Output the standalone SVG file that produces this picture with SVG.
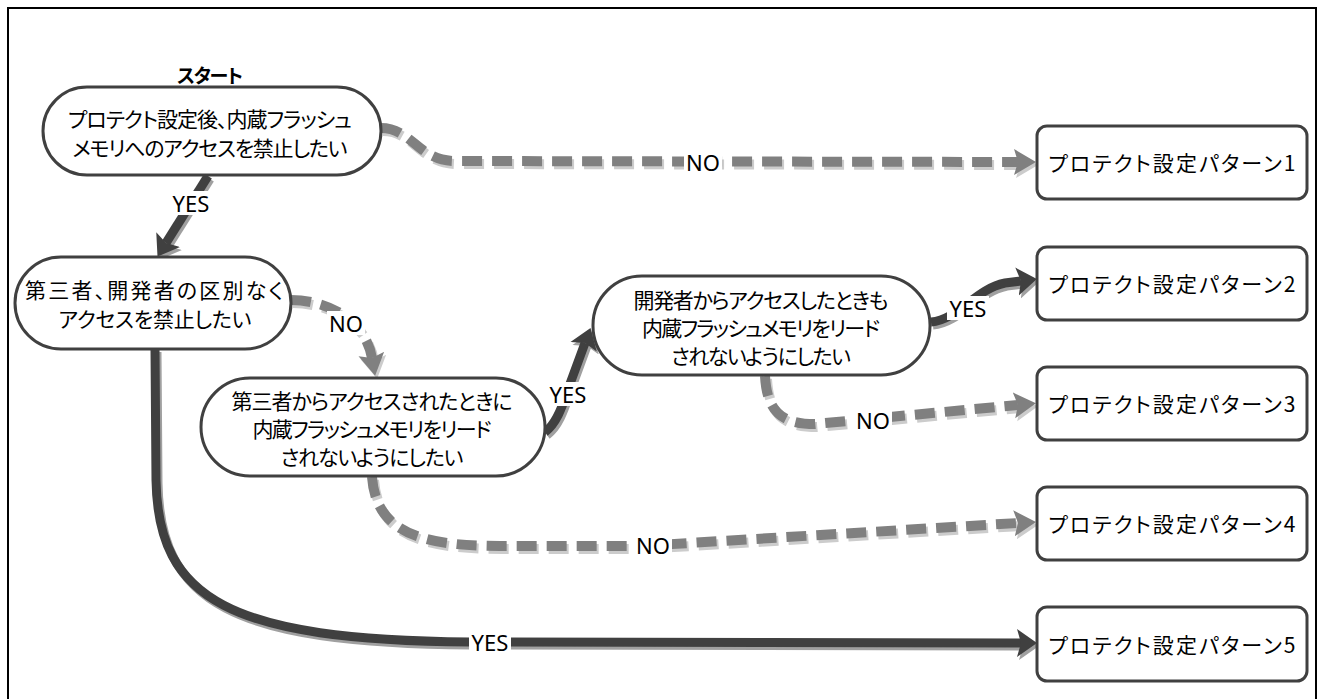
<svg xmlns="http://www.w3.org/2000/svg" width="1318" height="699" viewBox="0 0 1318 699">
<defs>
<style>
.node{fill:#ffffff;stroke:#404040;stroke-width:3}
.t{font-family:"Noto Sans CJK JP","Noto Sans",sans-serif;font-size:21px;fill:#000;text-anchor:middle;dominant-baseline:central;font-feature-settings:"palt"}
.pt{font-family:"Noto Sans CJK JP","Noto Sans",sans-serif;font-size:21px;fill:#000;text-anchor:middle;dominant-baseline:central;font-feature-settings:"palt"}
.lbl{font-family:"Noto Sans","Liberation Sans",sans-serif;font-size:22px;fill:#000;text-anchor:middle;dominant-baseline:central}
.no{fill:none;stroke:#808080;stroke-width:10;stroke-dasharray:20 10}
.nos{fill:none;stroke:#cccccc;stroke-width:10;stroke-dasharray:20 10}
.yes{fill:none;stroke:#404040;stroke-width:9}
.yess{fill:none;stroke:#a0a0a0;stroke-width:9}
.bg{fill:#ffffff}
</style>
<marker id="ag" viewBox="0 -14 22 28" refX="4" refY="0" markerWidth="22" markerHeight="28" markerUnits="userSpaceOnUse" orient="auto"><path d="M0,-13 L22,0 L0,13 L4,0 z" fill="#808080"/></marker>
<marker id="ags" viewBox="0 -14 22 28" refX="4" refY="0" markerWidth="22" markerHeight="28" markerUnits="userSpaceOnUse" orient="auto"><path d="M0,-13 L22,0 L0,13 L4,0 z" fill="#cccccc"/></marker>
<marker id="ad" viewBox="0 -15 20 30" refX="4" refY="0" markerWidth="20" markerHeight="30" markerUnits="userSpaceOnUse" orient="auto"><path d="M0,-14 L20,0 L0,14 L4,0 z" fill="#404040"/></marker>
<marker id="ads" viewBox="0 -15 20 30" refX="4" refY="0" markerWidth="20" markerHeight="30" markerUnits="userSpaceOnUse" orient="auto"><path d="M0,-14 L20,0 L0,14 L4,0 z" fill="#a0a0a0"/></marker>
</defs>
<rect x="0" y="0" width="1318" height="699" fill="#ffffff"/>
<rect x="8" y="8" width="1308" height="710" fill="none" stroke="#000000" stroke-width="2"/>

<g id="connectors">
  <g id="shadows" transform="translate(2,3)">
    <path class="nos" d="M381,128 C412,128 418,161 455,161 L1018,162" marker-end="url(#ags)"/>
    <path class="yess" d="M208,176 L166,243" marker-end="url(#ads)"/>
    <path class="nos" d="M291,300 C325,300 365,318 372,358" marker-end="url(#ags)"/>
    <path class="yess" d="M545,432 C556,424 562,408 567,392 L585,343" marker-end="url(#ads)"/>
    <path class="yess" d="M931,322 C958,320 975,289 1005,283 L1021,281" marker-end="url(#ads)"/>
    <path class="nos" d="M765,376 C767,412 782,424 815,424 L1018,405" marker-end="url(#ags)"/>
    <path class="nos" d="M372,477 C376,532 420,546 500,546 L640,546 L1018,523" marker-end="url(#ags)"/>
    <path class="yess" d="M155,349 L156,480 C158,600 230,640 470,642 L1021,643" marker-end="url(#ads)"/>
  </g>
  <path class="no" d="M381,128 C412,128 418,161 455,161 L1018,162" marker-end="url(#ag)"/>
  <path class="yes" d="M208,176 L166,243" marker-end="url(#ad)"/>
  <path class="no" d="M291,300 C325,300 365,318 372,358" marker-end="url(#ag)"/>
  <path class="yes" d="M545,432 C556,424 562,408 567,392 L585,343" marker-end="url(#ad)"/>
  <path class="yes" d="M931,322 C958,320 975,289 1005,283 L1021,281" marker-end="url(#ad)"/>
  <path class="no" d="M765,376 C767,412 782,424 815,424 L1018,405" marker-end="url(#ag)"/>
  <path class="no" d="M372,477 C376,532 420,546 500,546 L640,546 L1018,523" marker-end="url(#ag)"/>
  <path class="yes" d="M155,349 L156,480 C158,600 230,640 470,642 L1021,643" marker-end="url(#ad)"/>

  <rect class="bg" x="684" y="150" width="38" height="24"/>
  <text class="lbl" x="703" y="162">NO</text>
  <rect class="bg" x="170" y="191" width="42" height="24"/>
  <text class="lbl" x="191" y="203">YES</text>
  <rect class="bg" x="327" y="311" width="38" height="24"/>
  <text class="lbl" x="346" y="323">NO</text>
  <rect class="bg" x="547" y="382" width="42" height="24"/>
  <text class="lbl" x="568" y="394">YES</text>
  <rect class="bg" x="947" y="296" width="42" height="24"/>
  <text class="lbl" x="968" y="308">YES</text>
  <rect class="bg" x="854" y="408" width="38" height="24"/>
  <text class="lbl" x="873" y="420">NO</text>
  <rect class="bg" x="634" y="533" width="38" height="24"/>
  <text class="lbl" x="653" y="545">NO</text>
  <rect class="bg" x="469" y="630" width="42" height="24"/>
  <text class="lbl" x="490" y="642">YES</text>
</g>

<g id="start-label">
  <text class="t" x="210" y="74" style="font-weight:bold;font-size:19px" textLength="66">スタート</text>
</g>
<g id="n1">
  <rect class="node" x="43" y="87" width="338" height="88" rx="44" ry="44"/>
  <text class="t" x="210" y="118" textLength="284">プロテクト設定後、内蔵フラッシュ</text>
  <text class="t" x="210" y="147" textLength="275">メモリへのアクセスを禁止したい</text>
</g>
<g id="n2">
  <rect class="node" x="15" y="257" width="276" height="92" rx="46" ry="46"/>
  <text class="t" x="154" y="289" textLength="258">第三者、開発者の区別なく</text>
  <text class="t" x="155" y="318" textLength="193">アクセスを禁止したい</text>
</g>
<g id="n3">
  <rect class="node" x="201" y="378" width="344" height="98" rx="49" ry="49"/>
  <text class="t" x="372" y="400" textLength="281">第三者からアクセスされたときに</text>
  <text class="t" x="372" y="428" textLength="239">内蔵フラッシュメモリをリード</text>
  <text class="t" x="372" y="456" textLength="183">されないようにしたい</text>
</g>
<g id="n4">
  <rect class="node" x="593" y="276" width="337" height="99" rx="49" ry="49"/>
  <text class="t" x="761" y="299" textLength="255">開発者からアクセスしたときも</text>
  <text class="t" x="761" y="327" textLength="238">内蔵フラッシュメモリをリード</text>
  <text class="t" x="761" y="355" textLength="180">されないようにしたい</text>
</g>
<g id="p1">
  <rect class="node" x="1037" y="126" width="270" height="73" rx="10" ry="10"/>
  <text class="pt" x="1172" y="162" textLength="247">プロテクト設定パターン1</text>
</g>
<g id="p2">
  <rect class="node" x="1037" y="247" width="270" height="73" rx="10" ry="10"/>
  <text class="pt" x="1172" y="283" textLength="247">プロテクト設定パターン2</text>
</g>
<g id="p3">
  <rect class="node" x="1037" y="367" width="270" height="73" rx="10" ry="10"/>
  <text class="pt" x="1172" y="403" textLength="247">プロテクト設定パターン3</text>
</g>
<g id="p4">
  <rect class="node" x="1037" y="487" width="270" height="73" rx="10" ry="10"/>
  <text class="pt" x="1172" y="523" textLength="247">プロテクト設定パターン4</text>
</g>
<g id="p5">
  <rect class="node" x="1037" y="607" width="270" height="74" rx="10" ry="10"/>
  <text class="pt" x="1172" y="644" textLength="247">プロテクト設定パターン5</text>
</g>
</svg>
